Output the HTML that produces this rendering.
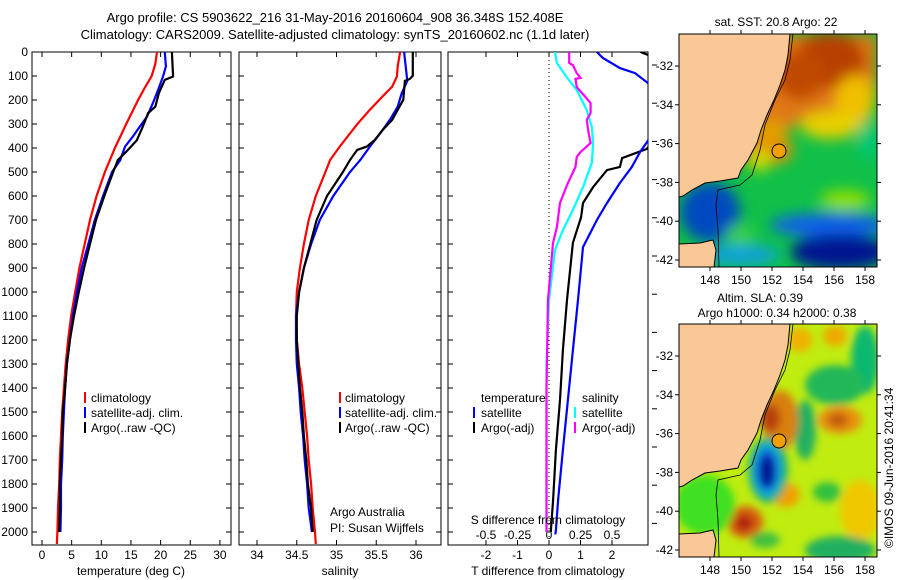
<!DOCTYPE html>
<html><head><meta charset="utf-8"><style>
body{margin:0;background:#fff;width:900px;height:580px;overflow:hidden}
svg{display:block;font-family:"Liberation Sans",sans-serif}
</style></head><body>
<svg id="chart" width="900" height="580" viewBox="0 0 900 580" xmlns="http://www.w3.org/2000/svg">
<defs>
<clipPath id="c1"><rect x="32" y="52" width="199" height="493"/></clipPath>
<clipPath id="c2"><rect x="239" y="52" width="202" height="493"/></clipPath>
<clipPath id="c3"><rect x="448" y="52" width="200" height="493"/></clipPath>
<clipPath id="m1"><rect x="679" y="34" width="198" height="233"/></clipPath>
<clipPath id="m2"><rect x="679" y="324" width="198" height="233"/></clipPath>
<filter id="bl" x="-50%" y="-50%" width="200%" height="200%"><feGaussianBlur stdDeviation="7"/></filter>
<filter id="bl2" x="-50%" y="-50%" width="200%" height="200%"><feGaussianBlur stdDeviation="4"/></filter>
</defs>
<g font-size="13" text-anchor="middle">
<text x="335" y="22">Argo profile: CS 5903622_216 31-May-2016 20160604_908 36.348S 152.408E</text>
<text x="335" y="39">Climatology: CARS2009. Satellite-adjusted climatology: synTS_20160602.nc (1.1d later)</text>
</g>
<g id="axes"></g>
<g id="series"></g>

<!-- SST map -->
<g>
<g clip-path="url(#m1)">
<rect x="679" y="34" width="198" height="233" fill="#10c048"/>
<g filter="url(#bl)">
<polygon points="780,34 877,34 877,95 850,120 820,130 800,120 780,140 760,150 740,170 760,80" fill="#e07818"/>
<ellipse cx="830" cy="60" rx="35" ry="28" fill="#b84000"/>
<ellipse cx="800" cy="75" rx="25" ry="25" fill="#c04800"/>
<ellipse cx="855" cy="100" rx="20" ry="25" fill="#f0c000"/>
<ellipse cx="830" cy="125" rx="30" ry="14" fill="#e8d000"/>
<ellipse cx="775" cy="150" rx="18" ry="14" fill="#e89000"/>
<ellipse cx="770" cy="130" rx="20" ry="10" fill="#e0a000"/>
<ellipse cx="760" cy="160" rx="10" ry="12" fill="#d0e000"/>
<ellipse cx="845" cy="200" rx="25" ry="10" fill="#90e000"/>
<ellipse cx="868" cy="140" rx="10" ry="20" fill="#00c878"/>
<ellipse cx="830" cy="225" rx="60" ry="12" fill="#1060e8"/>
<ellipse cx="840" cy="252" rx="50" ry="18" fill="#001890"/>
<ellipse cx="740" cy="255" rx="40" ry="10" fill="#10a0e0"/>
<ellipse cx="710" cy="212" rx="30" ry="30" fill="#0048c0"/>
<ellipse cx="740" cy="235" rx="14" ry="10" fill="#40d040"/>
</g>
<polygon points="679,34 790,34 788,55 785,70 780,85 774,100 767,115 761,130 757,143 748,160 741,170 738,178 720,181 705,183 692,190 683,196 679,197" fill="#f9c896"/>
<polygon points="679,244 700,243 713,240 716,250 714,267 679,267" fill="#f9c896"/>
<polyline points="790,34 788,55 785,70 780,85 774,100 767,115 761,130 757,143 748,160 741,170 738,178 720,181 705,183 692,190 683,196 679,197" fill="none" stroke="#000" stroke-width="1"/>
<polyline points="679,244 700,243 713,240 716,250 714,267" fill="none" stroke="#000" stroke-width="1"/>
<polyline points="793,34 790,60 785,80 775,100 765,125 760,150 752,175 740,185 718,190 716,205 718,230 719,267" fill="none" stroke="#000" stroke-width="0.8"/>
</g>
<rect x="679" y="34" width="198" height="233" fill="none" stroke="#000"/>
<circle cx="779" cy="151" r="7" fill="#f0a000" stroke="#000"/>
<text x="776" y="26" font-size="12" text-anchor="middle">sat. SST: 20.8 Argo: 22</text>
</g>

<!-- SLA map -->
<g>
<g clip-path="url(#m2)">
<rect x="679" y="324" width="198" height="233" fill="#c0ec10"/>
<g filter="url(#bl2)">
<ellipse cx="865" cy="360" rx="14" ry="34" fill="#10b870"/>
<ellipse cx="835" cy="385" rx="30" ry="20" fill="#20b858"/>
<ellipse cx="805" cy="430" rx="11" ry="30" fill="#20b060"/>
<ellipse cx="860" cy="510" rx="20" ry="30" fill="#f0c800"/>
<ellipse cx="780" cy="420" rx="18" ry="30" fill="#d88010"/>
<ellipse cx="770" cy="418" rx="10" ry="14" fill="#b84010"/>
<ellipse cx="840" cy="420" rx="22" ry="14" fill="#e89010"/>
<ellipse cx="838" cy="420" rx="10" ry="7" fill="#c05810"/>
<ellipse cx="800" cy="340" rx="12" ry="12" fill="#f0b000"/>
<ellipse cx="835" cy="336" rx="12" ry="10" fill="#f0a800"/>
<ellipse cx="786" cy="495" rx="14" ry="12" fill="#f0a000"/>
<ellipse cx="827" cy="492" rx="14" ry="10" fill="#30c040"/>
<ellipse cx="745" cy="522" rx="18" ry="16" fill="#d86010"/>
<ellipse cx="744" cy="523" rx="9" ry="8" fill="#b02010"/>
<ellipse cx="840" cy="550" rx="35" ry="14" fill="#20b060"/>
<ellipse cx="765" cy="540" rx="15" ry="8" fill="#40c040"/>
<ellipse cx="768" cy="470" rx="20" ry="33" fill="#20b070"/>
<ellipse cx="767" cy="470" rx="15" ry="27" fill="#10b0e0"/>
<ellipse cx="767" cy="470" rx="11" ry="21" fill="#0850d0"/>
<ellipse cx="767" cy="472" rx="7" ry="15" fill="#001890"/>
<ellipse cx="705" cy="505" rx="30" ry="30" fill="#40e020"/>
</g>
<polygon points="679,324 790,324 788,345 785,360 780,375 774,390 767,405 761,420 757,433 748,450 741,460 738,468 720,471 705,473 692,480 683,486 679,487" fill="#f9c896"/>
<polygon points="679,534 700,533 713,530 716,540 714,557 679,557" fill="#f9c896"/>
<polyline points="790,324 788,345 785,360 780,375 774,390 767,405 761,420 757,433 748,450 741,460 738,468 720,471 705,473 692,480 683,486 679,487" fill="none" stroke="#000"/>
<polyline points="679,534 700,533 713,530 716,540 714,557" fill="none" stroke="#000"/>
<polyline points="793,324 790,350 785,370 775,390 765,415 760,440 752,465 740,475 718,480 716,495 718,520 719,557" fill="none" stroke="#000" stroke-width="0.8"/>
</g>
<rect x="679" y="324" width="198" height="233" fill="none" stroke="#000"/>
<circle cx="779" cy="441" r="7" fill="#f0a000" stroke="#000"/>
<text x="760" y="302" font-size="12" text-anchor="middle">Altim. SLA: 0.39</text>
<text x="777" y="317" font-size="12" text-anchor="middle">Argo h1000: 0.34 h2000: 0.38</text>
<text font-size="12" transform="translate(893,548) rotate(-90)">©IMOS 09-Jun-2016 20:41:34</text>
</g>
<g id="mapaxes"></g>

<g font-size="12">
<rect x="84" y="392" width="2" height="11" fill="#f00"/><text x="91" y="402">climatology</text>
<rect x="84" y="407" width="2" height="11" fill="#00f"/><text x="91" y="417">satellite-adj. clim.</text>
<rect x="84" y="422" width="2" height="11" fill="#000"/><text x="91" y="432">Argo(..raw -QC)</text>
</g>
<g font-size="12">
<rect x="339" y="392" width="2" height="11" fill="#f00"/><text x="345" y="402">climatology</text>
<rect x="339" y="407" width="2" height="11" fill="#00f"/><text x="345" y="417">satellite-adj. clim.</text>
<rect x="339" y="422" width="2" height="11" fill="#000"/><text x="345" y="432">Argo(..raw -QC)</text>
<text x="330" y="516">Argo Australia</text>
<text x="330" y="532">PI: Susan Wijffels</text>
</g>
<g font-size="12">
<text x="481" y="402">temperature</text>
<rect x="473" y="407" width="2" height="11" fill="#00f"/><text x="481" y="417">satellite</text>
<rect x="473" y="422" width="2" height="11" fill="#000"/><text x="481" y="432">Argo(-adj)</text>
<text x="582" y="402">salinity</text>
<rect x="574" y="407" width="2" height="11" fill="#0ff"/><text x="582" y="417">satellite</text>
<rect x="574" y="422" width="2" height="11" fill="#f0f"/><text x="582" y="432">Argo(-adj)</text>
<text x="548" y="524" text-anchor="middle">S difference from climatology</text>
</g>
</svg>
<script>
// depth (m)
const depthsT = [0,50,100,150,200,300,400,500,600,700,800,900,1000,1100,1200,1300,1400,1500,1600,1700,1800,1900,2000,2050];
const tempClim = [19.4,19.1,18.5,17.3,16.2,14.2,12.3,10.6,9.2,8.1,7.2,6.3,5.6,4.9,4.4,4.0,3.7,3.4,3.2,3.0,2.9,2.7,2.6,2.5];
const depthsArgoT = [0,102,116,172,228,255,311,367,408,450,500,600,700,800,900,1000,1100,1200,1300,1400,1500,1600,1700,1800,1900,2000];
const tempArgo = [21.9,22.1,20.7,19.7,19.1,17.9,17.0,16.0,14.5,12.8,12.0,10.5,9.1,8.1,7.1,6.2,5.4,4.7,4.2,3.9,3.5,3.4,3.2,3.0,3.0,2.9];
const depthsSatT = [0,60,102,157,213,269,311,353,394,450,500,600,700,800,900,1000,1100,1200,1300,1400,1500,1600,1700,1800,1900,2000];
const tempSat = [20.7,20.9,20.4,19.6,18.7,17.7,16.5,15.3,14.0,13.2,11.8,10.3,8.9,7.8,6.7,5.9,5.2,4.7,4.2,3.9,3.7,3.5,3.4,3.2,3.2,3.1];

const depthsClimS = [0,60,102,144,185,241,297,339,394,450,500,600,700,800,900,1000,1100,1200,1300,1400,1500,1600,1700,1800,1900,2000,2050];
const salClim = [35.80,35.77,35.76,35.70,35.58,35.42,35.27,35.17,35.04,34.92,34.86,34.74,34.65,34.59,34.54,34.50,34.49,34.50,34.53,34.57,34.60,34.63,34.65,34.68,34.70,34.73,34.74];
const depthsArgoS = [0,99,113,120,199,241,283,325,367,394,408,450,500,600,700,800,900,1000,1100,1200,1300,1400,1500,1600,1700,1800,1900,2000];
const salArgo = [35.96,35.96,35.92,35.86,35.84,35.77,35.70,35.58,35.48,35.38,35.26,35.17,35.08,34.88,34.75,34.67,34.59,34.53,34.50,34.50,34.52,34.54,34.57,34.59,34.62,34.64,34.68,34.70];
const depthsSatS = [0,60,120,172,228,283,339,394,450,500,600,700,800,900,1000,1100,1200,1300,1400,1500,1600,1700,1800,1900,2000];
const salSat = [35.85,35.87,35.89,35.82,35.77,35.67,35.55,35.42,35.30,35.17,34.96,34.79,34.68,34.59,34.53,34.49,34.49,34.50,34.53,34.55,34.58,34.60,34.63,34.65,34.69];

const depthsDiffArgoT = [0,30,120,300,404,442,479,492,563,629,688,795,1033,1242,1450,1658,1867,1992,2000];
const diffArgoT = [2.9,3.5,3.8,3.8,3.1,2.32,2.25,1.84,1.40,1.08,1.02,0.76,0.57,0.44,0.35,0.22,0.13,0.06,0.06];
const depthsDiffSatT = [0,25,67,88,129,250,358,417,479,546,629,700,813,1033,1242,1450,1658,1867,1992,2010];
const diffSatT = [1.52,1.71,2.25,2.73,3.14,3.6,3.2,2.89,2.63,2.25,1.84,1.52,1.08,0.92,0.76,0.60,0.44,0.29,0.22,0.2];
const depthsDiffSatS = [0,46,104,158,242,312,379,463,563,658,742,825,1033,1300,1600,1900,2000];
const diffSatS = [0.048,0.063,0.14,0.22,0.30,0.34,0.35,0.34,0.27,0.19,0.11,0.048,0.0,-0.02,-0.02,-0.02,-0.02];
const depthsDiffArgoS = [0,46,55,88,108,112,146,188,213,254,283,325,379,417,438,479,546,629,729,796,1033,1400,1800,2000];
const diffArgoS = [0.16,0.16,0.19,0.22,0.25,0.21,0.22,0.29,0.33,0.33,0.30,0.31,0.33,0.25,0.22,0.21,0.15,0.087,0.063,0.032,-0.008,-0.02,-0.02,-0.02];

const depthTicks = [0,100,200,300,400,500,600,700,800,900,1000,1100,1200,1300,1400,1500,1600,1700,1800,1900,2000];
const tempTicks = [0,5,10,15,20,25,30];
const salTicks = [34,34.5,35,35.5,36];
const salTickLabels = ["34","34.5","35","35.5","36"];
const tdiffTicks = [-2,-1,0,1,2];
const sdiffTicks = [-0.5,-0.25,0,0.25,0.5];
const sdiffLabels = ["-0.5","-0.25","0","0.25","0.5"];
const lonTicks = [148,150,152,154,156,158];
const latTicks = [-32,-34,-36,-38,-40,-42];

const yD = d => 52 + d*0.24;
const xT = v => 42 + v*5.93;
const xS = v => 257 + (v-34)*79.5;
const xTD = v => 549 + v*31.5;
const xSD = v => 549 + v*126;
const xLon = v => 710 + (v-148)*15.5;
const yLat = v => 66 + (-32 - v)*19.4;

const NS="http://www.w3.org/2000/svg";
function mk(tag, attrs, parent, txt){const e=document.createElementNS(NS,tag);for(const k in attrs)e.setAttribute(k,attrs[k]);if(txt!==undefined)e.textContent=txt;parent.appendChild(e);return e;}
const axes=document.getElementById('axes'), ser=document.getElementById('series'), mapaxes=document.getElementById('mapaxes');

const panels=[{x:32,w:199,name:'temperature-panel'},{x:239,w:202,name:'salinity-panel'},{x:448,w:200,name:'difference-panel'}];
panels.forEach((p,i)=>{
  const r=mk('rect',{x:p.x,y:52,width:p.w,height:493,fill:'none',stroke:'#000'},axes);
  
  
  depthTicks.forEach(d=>{
    mk('line',{x1:p.x,x2:p.x+5,y1:yD(d),y2:yD(d),stroke:'#000'},axes);
    if(i<2) mk('line',{x1:p.x+p.w,x2:p.x+p.w-5,y1:yD(d),y2:yD(d),stroke:'#000'},axes);
  });
});
depthTicks.forEach(d=>{
  const t=mk('text',{x:28,y:yD(d)+4,'font-size':12,'text-anchor':'end'},axes,String(d));
  
  
});
tempTicks.forEach(v=>{
  mk('line',{x1:xT(v),x2:xT(v),y1:52,y2:57,stroke:'#000'},axes);
  mk('line',{x1:xT(v),x2:xT(v),y1:545,y2:540,stroke:'#000'},axes);
  const t=mk('text',{x:xT(v),y:559,'font-size':12,'text-anchor':'middle'},axes,String(v));
  
  
});
salTicks.forEach((v,i)=>{
  mk('line',{x1:xS(v),x2:xS(v),y1:52,y2:57,stroke:'#000'},axes);
  mk('line',{x1:xS(v),x2:xS(v),y1:545,y2:540,stroke:'#000'},axes);
  const t=mk('text',{x:xS(v),y:559,'font-size':12,'text-anchor':'middle'},axes,salTickLabels[i]);
  
  
});
tdiffTicks.forEach(v=>{
  mk('line',{x1:xTD(v),x2:xTD(v),y1:52,y2:57,stroke:'#000'},axes);
  mk('line',{x1:xTD(v),x2:xTD(v),y1:545,y2:540,stroke:'#000'},axes);
  const t=mk('text',{x:xTD(v),y:559,'font-size':12,'text-anchor':'middle'},axes,String(v));
  
  
});
sdiffTicks.forEach((v,i)=>{
  const t=mk('text',{x:xSD(v),y:539,'font-size':12,'text-anchor':'middle'},axes,sdiffLabels[i]);
  
  
});
for(let k=0;k<13;k++){ const yy=65+k*38.2; mk('line',{x1:652,x2:657,y1:yy,y2:yy,stroke:'#000'},axes); }
mk('line',{x1:549,x2:549,y1:52,y2:545,stroke:'#000','stroke-dasharray':'1,3'},axes);
[['temperature (deg C)',131,'temperature-axis-title'],['salinity',340,'salinity-axis-title'],['T difference from climatology',548,'tdiff-axis-title']].forEach(a=>{
  const t=mk('text',{x:a[1],y:575,'font-size':12,'text-anchor':'middle'},axes,a[0]);
  
  
});

function line(ds, vs, fx, color, clip, name, w){
  const pts=ds.map((d,i)=>fx(vs[i]).toFixed(1)+','+yD(d).toFixed(1)).join(' ');
  const pl=mk('polyline',{points:pts,fill:'none',stroke:color,'stroke-width':w||2.2,'clip-path':'url(#'+clip+')'},ser);
  
  
}
line(depthsT,tempClim,xT,'#f00','c1','temp-climatology-line');
line(depthsSatT,tempSat,xT,'#00f','c1','temp-satellite-line');
line(depthsArgoT,tempArgo,xT,'#000','c1','temp-argo-line');
line(depthsClimS,salClim,xS,'#f00','c2','sal-climatology-line');
line(depthsSatS,salSat,xS,'#00f','c2','sal-satellite-line');
line(depthsArgoS,salArgo,xS,'#000','c2','sal-argo-line');
line(depthsDiffSatS,diffSatS,xSD,'#0ff','c3','sdiff-satellite-line');
line(depthsDiffArgoS,diffArgoS,xSD,'#f0f','c3','sdiff-argo-line');
line(depthsDiffArgoT,diffArgoT,xTD,'#000','c3','tdiff-argo-line');
line(depthsDiffSatT,diffSatT,xTD,'#00f','c3','tdiff-satellite-line');

[0,290].forEach(off=>{
  lonTicks.forEach(v=>{
    mk('line',{x1:xLon(v),x2:xLon(v),y1:34+off,y2:30+off,stroke:'#000'},mapaxes);
    mk('line',{x1:xLon(v),x2:xLon(v),y1:267+off,y2:271+off,stroke:'#000'},mapaxes);
    const t=mk('text',{x:xLon(v),y:284+off,'font-size':12,'text-anchor':'middle'},mapaxes,String(v));
    
    
  });
  latTicks.forEach(v=>{
    mk('line',{x1:679,x2:675,y1:yLat(v)+off,y2:yLat(v)+off,stroke:'#000'},mapaxes);
    mk('line',{x1:877,x2:881,y1:yLat(v)+off,y2:yLat(v)+off,stroke:'#000'},mapaxes);
    const t=mk('text',{x:673,y:yLat(v)+off+4,'font-size':12,'text-anchor':'end'},mapaxes,String(v));
    
    
  });
});
</script>
</body></html>
